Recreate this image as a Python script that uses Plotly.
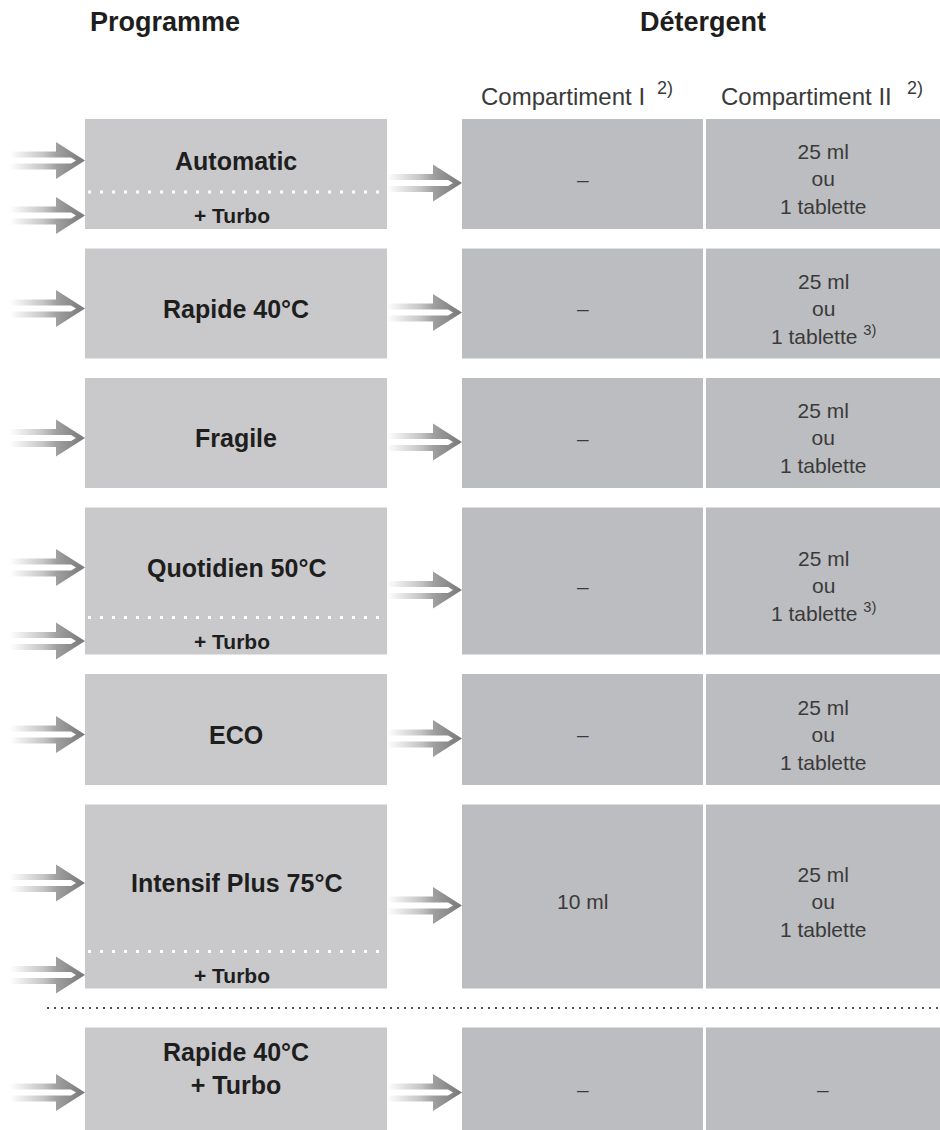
import plotly.graph_objects as go

# Table content
programmes = ['Automatic', 'Rapide 40°C', 'Fragile', 'Quotidien 50°C', 'ECO',
              'Intensif Plus 75°C', 'Rapide 40°C<br>+ Turbo']
turbo = [True, False, False, True, False, True, False]
compartiment_1 = ['–', '–', '–', '–', '–', '10 ml', '–']
compartiment_2 = ['25 ml<br>ou<br>1 tablette',
                  '25 ml<br>ou<br>1 tablette <sup>3)</sup>',
                  '25 ml<br>ou<br>1 tablette',
                  '25 ml<br>ou<br>1 tablette <sup>3)</sup>',
                  '25 ml<br>ou<br>1 tablette',
                  '25 ml<br>ou<br>1 tablette',
                  '–']
headers = ['Programme', 'Détergent']
sub_headers = ['Compartiment I', 'Compartiment II']
sub_note = '2)'
turbo_label = '+ Turbo'

# Layout (pixels, y grows downward)
W, H = 940, 1130
row_heights = [110, 110, 110, 147, 111, 184, 104]
gap = 19.5
first_top = 119
turbo_h = 37
prog_x = (85, 387)
c1_x = (462, 703)
c2_x = (706, 940)

PROG_GRAY = '#c9c9cb'
COMP_GRAY = '#bcbdc0'
TXT = '#1e1e1e'
LIGHT_TXT = '#3a3a3a'
BOLD = dict(family='Liberation Sans', color=TXT, weight='bold')
LIGHT = dict(family='Liberation Sans', color=LIGHT_TXT)

tops = []
y = first_top
for i, h in enumerate(row_heights):
    if i == len(row_heights) - 1:
        y += gap  # extra space for the separator line
    tops.append(y)
    y += h + gap
sep_y = tops[-2] + row_heights[-2] + (tops[-1] - tops[-2] - row_heights[-2]) / 2


def arrow(tx, ty):
    L, HL, hh, so, si = 75, 29, 18.5, 9, 3
    pts = [(-L, -so), (-HL, -so), (-HL, -hh), (0, 0), (-HL, hh), (-HL, so), (-L, so),
           (-L, si), (-14, si), (-9, 0), (-14, -si), (-L, -si), (-L, -so)]
    return [tx + p[0] for p in pts] + [None], [ty + p[1] for p in pts] + [None]


shapes = []
annotations = []
left_x, left_y, right_x, right_y = [], [], [], []
last = len(programmes) - 1

for i, name in enumerate(programmes):
    top = tops[i]
    bot = top + row_heights[i]
    for x0, x1, col in [(prog_x[0], prog_x[1], PROG_GRAY), (c1_x[0], c1_x[1], COMP_GRAY),
                        (c2_x[0], c2_x[1], COMP_GRAY)]:
        shapes.append(dict(type='rect', x0=x0, x1=x1, y0=top, y1=bot,
                           fillcolor=col, line_width=0, layer='below'))

    main_bot = bot - turbo_h if turbo[i] else bot
    label_y = (top + main_bot) / 2 + (5 if i < last else -11)
    cx = (prog_x[0] + prog_x[1]) / 2
    annotations.append(dict(x=cx, y=label_y, text=name, showarrow=False,
                            font=dict(size=25, **BOLD), xanchor='center', yanchor='middle'))
    ax, ay = arrow(prog_x[0], label_y if i < last else (top + bot) / 2 + 13)
    left_x += ax
    left_y += ay

    if turbo[i]:
        shapes.append(dict(type='line', x0=prog_x[0] + 3, x1=prog_x[1] - 4, y0=main_bot, y1=main_bot,
                           line=dict(color='white', width=3, dash='3px,9px')))
        ty = (main_bot + bot) / 2 + 5
        annotations.append(dict(x=cx - 4, y=ty, text=turbo_label, showarrow=False,
                                font=dict(size=21, **BOLD), xanchor='center', yanchor='middle'))
        ax, ay = arrow(prog_x[0], ty)
        left_x += ax
        left_y += ay

    mid = (top + bot) / 2
    rx, ry = arrow(c1_x[0], mid + (13 if i == last else 9))
    right_x += rx
    right_y += ry

    annotations.append(dict(x=(c1_x[0] + c1_x[1]) / 2, y=mid + (5 if i < last else 10),
                            text=compartiment_1[i], showarrow=False,
                            font=dict(size=21, **LIGHT), xanchor='center', yanchor='middle'))
    annotations.append(dict(x=(c2_x[0] + c2_x[1]) / 2, y=mid + (5 if i < last else 10),
                            text=compartiment_2[i], showarrow=False,
                            font=dict(size=21, **LIGHT), xanchor='center', yanchor='middle'))

# separator between the main programmes and the last one
shapes.append(dict(type='line', x0=prog_x[0] - 38, x1=W, y0=sep_y, y1=sep_y,
                   line=dict(color='#555555', width=2, dash='2px,5px')))

# headers
annotations.append(dict(x=165, y=22, text=headers[0], showarrow=False,
                        font=dict(size=27, **BOLD), xanchor='center', yanchor='middle'))
annotations.append(dict(x=703, y=22, text=headers[1], showarrow=False,
                        font=dict(size=27, **BOLD), xanchor='center', yanchor='middle'))
for sx, label in zip([479, 719], sub_headers):
    annotations.append(dict(x=sx, y=96, text=label, showarrow=False,
                            font=dict(size=24, **LIGHT), xanchor='left', yanchor='middle'))
for sx in [655, 905]:
    annotations.append(dict(x=sx, y=88, text=sub_note, showarrow=False,
                            font=dict(size=18, **LIGHT), xanchor='left', yanchor='middle'))

# white separator between the two compartments
shapes.append(dict(type='line', x0=704.5, x1=704.5, y0=tops[0], y1=H,
                   line=dict(color='white', width=3), layer='below'))

grad = [[0, 'rgba(255,255,255,1)'], [0.45, '#c4c4c4'], [0.62, '#a0a0a0'], [1, '#777777']]

fig = go.Figure()
for xs, ys in [(left_x, left_y), (right_x, right_y)]:
    fig.add_trace(go.Scatter(x=xs, y=ys, mode='lines', fill='toself',
                             line=dict(width=0, color='rgba(0,0,0,0)'),
                             fillgradient=dict(type='horizontal', colorscale=grad),
                             hoverinfo='skip', showlegend=False))

fig.update_layout(
    width=W, height=H,
    margin=dict(l=0, r=0, t=0, b=0),
    paper_bgcolor='white', plot_bgcolor='white',
    xaxis=dict(range=[0, W], visible=False, fixedrange=True),
    yaxis=dict(range=[H, 0], visible=False, fixedrange=True),
    shapes=shapes,
    annotations=annotations,
    showlegend=False,
)

fig.write_html("out.html", config={'displayModeBar': False},
               post_script="document.body.style.margin='0';")
